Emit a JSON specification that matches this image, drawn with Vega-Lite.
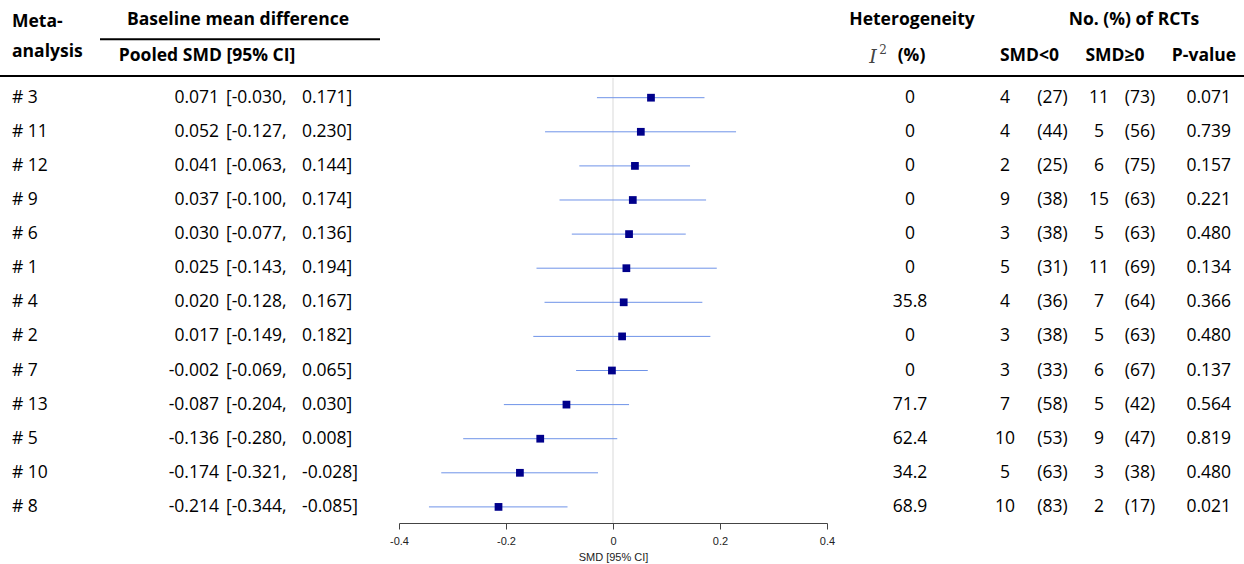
{
  "$schema": "https://vega.github.io/schema/vega-lite/v6.json",
  "width": 1244,
  "height": 523,
  "autosize": "none",
  "padding": {"left": 0, "top": 0, "right": 0, "bottom": 41},
  "config": {"view": {"stroke": null}, "font": "Open Sans", "text": {"fontSize": 17.5, "color": "#000", "baseline": "middle"}},
  "data": {"values": [
    {"row": 1, "meta": "# 3", "est": 0.071, "lo": -0.030, "hi": 0.171, "est_txt": "0.071", "ci_lo": "[-0.030,", "ci_hi": "0.171]", "i2": "0", "nneg": 4, "pneg": "(27)", "npos": 11, "ppos": "(73)", "p": "0.071"},
    {"row": 2, "meta": "# 11", "est": 0.052, "lo": -0.127, "hi": 0.230, "est_txt": "0.052", "ci_lo": "[-0.127,", "ci_hi": "0.230]", "i2": "0", "nneg": 4, "pneg": "(44)", "npos": 5, "ppos": "(56)", "p": "0.739"},
    {"row": 3, "meta": "# 12", "est": 0.041, "lo": -0.063, "hi": 0.144, "est_txt": "0.041", "ci_lo": "[-0.063,", "ci_hi": "0.144]", "i2": "0", "nneg": 2, "pneg": "(25)", "npos": 6, "ppos": "(75)", "p": "0.157"},
    {"row": 4, "meta": "# 9", "est": 0.037, "lo": -0.100, "hi": 0.174, "est_txt": "0.037", "ci_lo": "[-0.100,", "ci_hi": "0.174]", "i2": "0", "nneg": 9, "pneg": "(38)", "npos": 15, "ppos": "(63)", "p": "0.221"},
    {"row": 5, "meta": "# 6", "est": 0.030, "lo": -0.077, "hi": 0.136, "est_txt": "0.030", "ci_lo": "[-0.077,", "ci_hi": "0.136]", "i2": "0", "nneg": 3, "pneg": "(38)", "npos": 5, "ppos": "(63)", "p": "0.480"},
    {"row": 6, "meta": "# 1", "est": 0.025, "lo": -0.143, "hi": 0.194, "est_txt": "0.025", "ci_lo": "[-0.143,", "ci_hi": "0.194]", "i2": "0", "nneg": 5, "pneg": "(31)", "npos": 11, "ppos": "(69)", "p": "0.134"},
    {"row": 7, "meta": "# 4", "est": 0.020, "lo": -0.128, "hi": 0.167, "est_txt": "0.020", "ci_lo": "[-0.128,", "ci_hi": "0.167]", "i2": "35.8", "nneg": 4, "pneg": "(36)", "npos": 7, "ppos": "(64)", "p": "0.366"},
    {"row": 8, "meta": "# 2", "est": 0.017, "lo": -0.149, "hi": 0.182, "est_txt": "0.017", "ci_lo": "[-0.149,", "ci_hi": "0.182]", "i2": "0", "nneg": 3, "pneg": "(38)", "npos": 5, "ppos": "(63)", "p": "0.480"},
    {"row": 9, "meta": "# 7", "est": -0.002, "lo": -0.069, "hi": 0.065, "est_txt": "-0.002", "ci_lo": "[-0.069,", "ci_hi": "0.065]", "i2": "0", "nneg": 3, "pneg": "(33)", "npos": 6, "ppos": "(67)", "p": "0.137"},
    {"row": 10, "meta": "# 13", "est": -0.087, "lo": -0.204, "hi": 0.030, "est_txt": "-0.087", "ci_lo": "[-0.204,", "ci_hi": "0.030]", "i2": "71.7", "nneg": 7, "pneg": "(58)", "npos": 5, "ppos": "(42)", "p": "0.564"},
    {"row": 11, "meta": "# 5", "est": -0.136, "lo": -0.280, "hi": 0.008, "est_txt": "-0.136", "ci_lo": "[-0.280,", "ci_hi": "0.008]", "i2": "62.4", "nneg": 10, "pneg": "(53)", "npos": 9, "ppos": "(47)", "p": "0.819"},
    {"row": 12, "meta": "# 10", "est": -0.174, "lo": -0.321, "hi": -0.028, "est_txt": "-0.174", "ci_lo": "[-0.321,", "ci_hi": "-0.028]", "i2": "34.2", "nneg": 5, "pneg": "(63)", "npos": 3, "ppos": "(38)", "p": "0.480"},
    {"row": 13, "meta": "# 8", "est": -0.214, "lo": -0.344, "hi": -0.085, "est_txt": "-0.214", "ci_lo": "[-0.344,", "ci_hi": "-0.085]", "i2": "68.9", "nneg": 10, "pneg": "(83)", "npos": 2, "ppos": "(17)", "p": "0.021"}
  ]},
  "layer": [
    {
      "layer": [
        {
          "data": {"values": [{"ref": 0}]},
          "mark": {"type": "rule", "color": "#d9d9d9", "strokeWidth": 1},
          "encoding": {
            "x": {"field": "ref", "type": "quantitative", "scale": {"domain": [-0.4, 0.4], "range": [399, 827], "nice": false, "zero": false}},
            "y": {"datum": 0.42, "type": "quantitative", "scale": {"domain": [-1.865, 13.472], "reverse": true, "zero": false, "nice": false}, "axis": null},
            "y2": {"datum": 13.47}
          }
        },
        {
          "mark": {"type": "rule", "color": "#6f93e8", "strokeWidth": 1},
          "encoding": {
            "x": {"field": "lo", "type": "quantitative"},
            "x2": {"field": "hi"},
            "y": {"field": "row", "type": "quantitative"}
          }
        },
        {
          "mark": {"type": "point", "shape": "square", "filled": true, "size": 60, "color": "#00008b", "opacity": 1},
          "encoding": {
            "y": {"field": "row", "type": "quantitative"},
            "x": {"field": "est", "type": "quantitative",
              "axis": {"values": [-0.4, -0.2, 0, 0.2, 0.4], "title": "SMD [95% CI]", "grid": false, "labelExpr": "toString(datum.value)", "labelFlush": false,
                "domainColor": "#444", "tickColor": "#444", "tickSize": 6, "labelFont": "Liberation Sans", "labelFontSize": 11, "labelColor": "#222",
                "labelPadding": 6, "titleFont": "Liberation Sans", "titleFontSize": 11, "titleFontWeight": "normal", "titleColor": "#222", "titlePadding": 5}}
          }
        }
      ]
    },
    {
      "layer": [
        {"mark": {"type": "text", "align": "left"}, "encoding": {"x": {"datum": 12, "type": "quantitative", "scale": {"domain": [0, 1244], "range": [0, 1244], "nice": false, "zero": false}, "axis": null}, "y": {"field": "row", "type": "quantitative"}, "text": {"field": "meta"}}},
        {"mark": {"type": "text", "align": "right"}, "encoding": {"x": {"datum": 219, "type": "quantitative"}, "y": {"field": "row", "type": "quantitative"}, "text": {"field": "est_txt"}}},
        {"mark": {"type": "text", "align": "left"}, "encoding": {"x": {"datum": 226, "type": "quantitative"}, "y": {"field": "row", "type": "quantitative"}, "text": {"field": "ci_lo"}}},
        {"mark": {"type": "text", "align": "left"}, "encoding": {"x": {"datum": 302, "type": "quantitative"}, "y": {"field": "row", "type": "quantitative"}, "text": {"field": "ci_hi"}}},
        {"mark": {"type": "text", "align": "center"}, "encoding": {"x": {"datum": 910, "type": "quantitative"}, "y": {"field": "row", "type": "quantitative"}, "text": {"field": "i2"}}},
        {"mark": {"type": "text", "align": "center"}, "encoding": {"x": {"datum": 1005, "type": "quantitative"}, "y": {"field": "row", "type": "quantitative"}, "text": {"field": "nneg"}}},
        {"mark": {"type": "text", "align": "center"}, "encoding": {"x": {"datum": 1052.5, "type": "quantitative"}, "y": {"field": "row", "type": "quantitative"}, "text": {"field": "pneg"}}},
        {"mark": {"type": "text", "align": "center"}, "encoding": {"x": {"datum": 1099, "type": "quantitative"}, "y": {"field": "row", "type": "quantitative"}, "text": {"field": "npos"}}},
        {"mark": {"type": "text", "align": "center"}, "encoding": {"x": {"datum": 1140, "type": "quantitative"}, "y": {"field": "row", "type": "quantitative"}, "text": {"field": "ppos"}}},
        {"mark": {"type": "text", "align": "right"}, "encoding": {"x": {"datum": 1231, "type": "quantitative"}, "y": {"field": "row", "type": "quantitative"}, "text": {"field": "p"}}},
        {
          "data": {"values": [{"h": "Meta-"}]},
          "mark": {"type": "text", "align": "left", "fontWeight": "bold"},
          "encoding": {"x": {"datum": 12, "type": "quantitative"}, "y": {"datum": -1.22, "type": "quantitative"}, "text": {"field": "h"}}
        },
        {
          "data": {"values": [{"h": "analysis"}]},
          "mark": {"type": "text", "align": "left", "fontWeight": "bold"},
          "encoding": {"x": {"datum": 12, "type": "quantitative"}, "y": {"datum": -0.34, "type": "quantitative"}, "text": {"field": "h"}}
        },
        {
          "data": {"values": [{"h": "Baseline mean difference"}]},
          "mark": {"type": "text", "align": "center", "fontWeight": "bold"},
          "encoding": {"x": {"datum": 238, "type": "quantitative"}, "y": {"datum": -1.279, "type": "quantitative"}, "text": {"field": "h"}}
        },
        {
          "data": {"values": [{"h": "Pooled SMD [95% CI]"}]},
          "mark": {"type": "text", "align": "center", "fontWeight": "bold"},
          "encoding": {"x": {"datum": 207, "type": "quantitative"}, "y": {"datum": -0.223, "type": "quantitative"}, "text": {"field": "h"}}
        },
        {
          "data": {"values": [{"h": "Heterogeneity"}]},
          "mark": {"type": "text", "align": "center", "fontWeight": "bold"},
          "encoding": {"x": {"datum": 912, "type": "quantitative"}, "y": {"datum": -1.279, "type": "quantitative"}, "text": {"field": "h"}}
        },
        {
          "data": {"values": [{"h": "I"}]},
          "mark": {"type": "text", "align": "center", "font": "DejaVu Serif", "fontStyle": "italic", "fontSize": 19, "color": "#444"},
          "encoding": {"x": {"datum": 873, "type": "quantitative"}, "y": {"datum": -0.2, "type": "quantitative"}, "text": {"field": "h"}}
        },
        {
          "data": {"values": [{"h": "2"}]},
          "mark": {"type": "text", "align": "center", "font": "DejaVu Serif", "fontSize": 12, "color": "#444"},
          "encoding": {"x": {"datum": 883, "type": "quantitative"}, "y": {"datum": -0.4, "type": "quantitative"}, "text": {"field": "h"}}
        },
        {
          "data": {"values": [{"h": "(%)"}]},
          "mark": {"type": "text", "align": "center", "fontWeight": "bold"},
          "encoding": {"x": {"datum": 911.5, "type": "quantitative"}, "y": {"datum": -0.223, "type": "quantitative"}, "text": {"field": "h"}}
        },
        {
          "data": {"values": [{"h": "No. (%) of RCTs"}]},
          "mark": {"type": "text", "align": "center", "fontWeight": "bold"},
          "encoding": {"x": {"datum": 1134, "type": "quantitative"}, "y": {"datum": -1.279, "type": "quantitative"}, "text": {"field": "h"}}
        },
        {
          "data": {"values": [{"h": "SMD<0"}]},
          "mark": {"type": "text", "align": "center", "fontWeight": "bold"},
          "encoding": {"x": {"datum": 1029.5, "type": "quantitative"}, "y": {"datum": -0.223, "type": "quantitative"}, "text": {"field": "h"}}
        },
        {
          "data": {"values": [{"h": "SMD≥0"}]},
          "mark": {"type": "text", "align": "center", "fontWeight": "bold"},
          "encoding": {"x": {"datum": 1115, "type": "quantitative"}, "y": {"datum": -0.223, "type": "quantitative"}, "text": {"field": "h"}}
        },
        {
          "data": {"values": [{"h": "P-value"}]},
          "mark": {"type": "text", "align": "center", "fontWeight": "bold"},
          "encoding": {"x": {"datum": 1204, "type": "quantitative"}, "y": {"datum": -0.223, "type": "quantitative"}, "text": {"field": "h"}}
        },
        {
          "data": {"values": [{"h": "line"}]},
          "mark": {"type": "rule", "color": "#000", "strokeWidth": 2},
          "encoding": {"x": {"datum": 100, "type": "quantitative"}, "x2": {"datum": 380}, "y": {"datum": -0.713, "type": "quantitative"}}
        },
        {
          "data": {"values": [{"h": "line"}]},
          "mark": {"type": "rule", "color": "#000", "strokeWidth": 2},
          "encoding": {"x": {"datum": 0, "type": "quantitative"}, "x2": {"datum": 1244}, "y": {"datum": 0.364, "type": "quantitative"}}
        }
      ]
    }
  ],
  "resolve": {"scale": {"x": "independent"}}
}
